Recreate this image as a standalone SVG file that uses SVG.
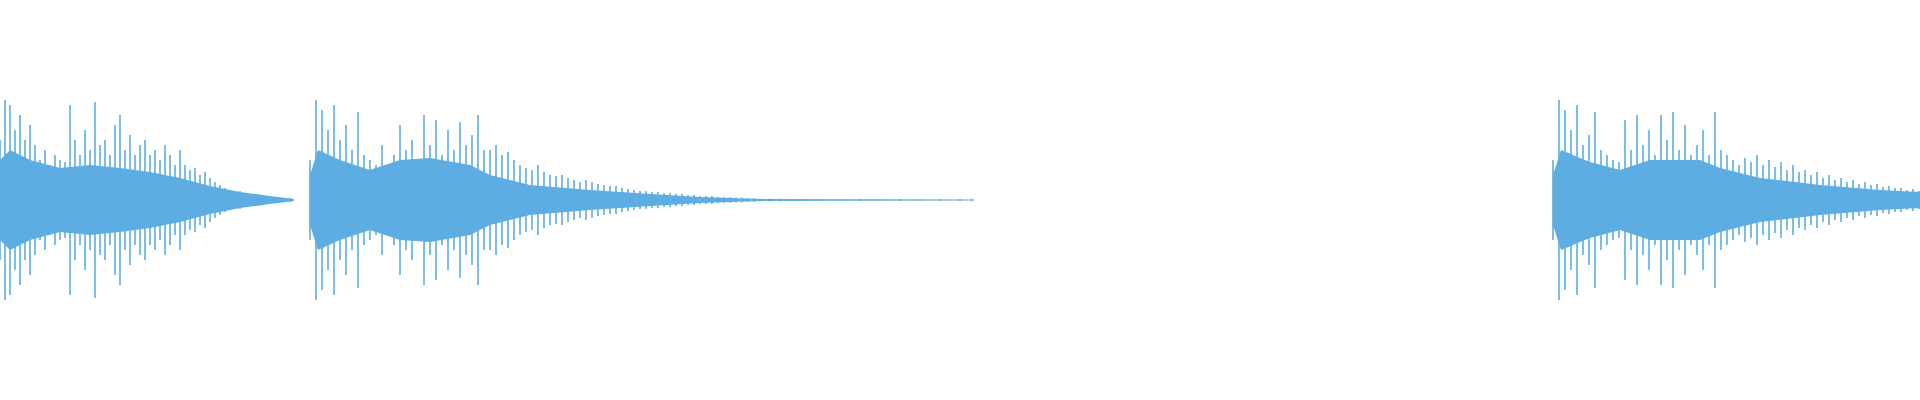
<svg xmlns="http://www.w3.org/2000/svg" width="1920" height="400" viewBox="0 0 1920 400">
<style>.w{stroke:#5dade2;stroke-width:1.6;fill:none}.c{fill:#5dade2}</style>
<rect width="1920" height="400" fill="#fff"/>
<polygon class="c" points="0,160 10,150 30,160 60,168 90,165 120,168 150,172 180,178 210,186 240,192 270,196 294,199 294,201 270,204 240,208 210,214 180,222 150,228 120,232 90,235 60,232 30,240 10,250 0,240"/>
<polygon class="c" points="310,175 318,150 340,160 370,170 400,160 430,158 470,165 490,175 530,185 590,190 650,194 700,197 760,199 974,199.5 974,200.5 760,201 700,203 650,206 590,210 530,215 490,225 470,235 430,242 400,240 370,230 340,240 318,250 310,225"/>
<polygon class="c" points="1553,175 1561,150 1590,162 1620,170 1650,160 1700,160 1720,168 1760,178 1820,185 1880,190 1920,192 1920,208 1880,210 1820,215 1760,222 1720,232 1700,240 1650,240 1620,230 1590,238 1561,250 1553,225"/>
<path class="w" d="M0 140v120M5 100v200M10 105v190M15 130v140M20 115v170M25 140v120M30 125v150M35 145v110M40 160v80M45 150v100M50 165v70M55 155v90M60 160v80M65 162v76M70 105v190M75 140v120M80 155v90M85 130v140M90 150v100M95 102v196M100 145v110M105 140v120M110 155v90M115 125v150M120 115v170M125 150v100M130 135v130M135 155v90M140 145v110M145 140v120M150 155v90M155 150v100M160 160v80M165 145v110M170 155v90M175 165v70M180 150v100M185 165v70M190 170v60M195 168v64M200 175v50M205 172v56M210 178v44M215 182v36M220 185v30M225 188v24M230 190v20M235 192v16M240 191v18M245 193v14M250 194v12M255 194v12M260 195v10M265 196v8M270 196v8M275 197v6M280 197v6M285 198v4M290 198v4"/>
<path class="w" d="M310 160v80M316 100v200M322 110v180M328 130v140M334 105v190M340 140v120M346 125v150M352 150v100M358 112v176M364 155v90M370 160v80M376 165v70M382 145v110M388 170v60M394 155v90M400 125v150M406 150v100M412 140v120M418 160v80M424 115v170M430 145v110M436 120v160M442 155v90M448 130v140M454 150v100M460 122v156M466 145v110M472 135v130M478 115v170M484 150v100M490 150v100M496 145v110M502 155v90M508 152v96M514 160v80M520 165v70M526 168v64M532 170v60M538 165v70M544 172v56M550 175v50M556 176v48M562 175v50M568 178v44M574 180v40M580 182v36M586 180v40M592 182v36M598 184v32M604 185v30M610 186v28M616 186v28M622 188v24M628 189v22M634 190v20M640 191v18M646 191v18M652 192v16M658 192v16M664 193v14M670 193v14M676 194v12M682 194v12M688 195v10M694 195v10M700 196v8M706 196v8M712 196v8M718 197v6M724 197v6M730 197v6M736 197.5v5M742 197.5v5M748 198v4M754 198v4M760 198.5v3M770 198.5v3M780 198.5v3M800 199v2M820 199v2M840 199v2M860 199v2M880 199v2M900 199v2M920 199v2M940 199v2M960 199v2M972 199v2"/>
<path class="w" d="M1553 160v80M1559 100v200M1565 110v180M1571 130v140M1577 105v190M1583 145v110M1589 135v130M1595 112v176M1601 150v100M1607 155v90M1613 160v80M1619 162v76M1625 120v160M1631 150v100M1637 115v170M1643 145v110M1649 130v140M1655 155v90M1661 115v170M1667 140v120M1673 112v176M1679 150v100M1685 125v150M1691 155v90M1697 145v110M1703 130v140M1709 155v90M1715 112v176M1721 150v100M1727 155v90M1733 160v80M1739 165v70M1745 158v84M1751 162v76M1757 155v90M1763 165v70M1769 160v80M1775 167v66M1781 162v76M1787 170v60M1793 165v70M1799 172v56M1805 170v60M1811 175v50M1817 172v56M1823 178v44M1829 175v50M1835 180v40M1841 178v44M1847 182v36M1853 180v40M1859 184v32M1865 182v36M1871 185v30M1877 184v32M1883 187v26M1889 186v28M1895 188v24M1901 188v24M1907 190v20M1913 189v22M1919 191v18"/>
</svg>
